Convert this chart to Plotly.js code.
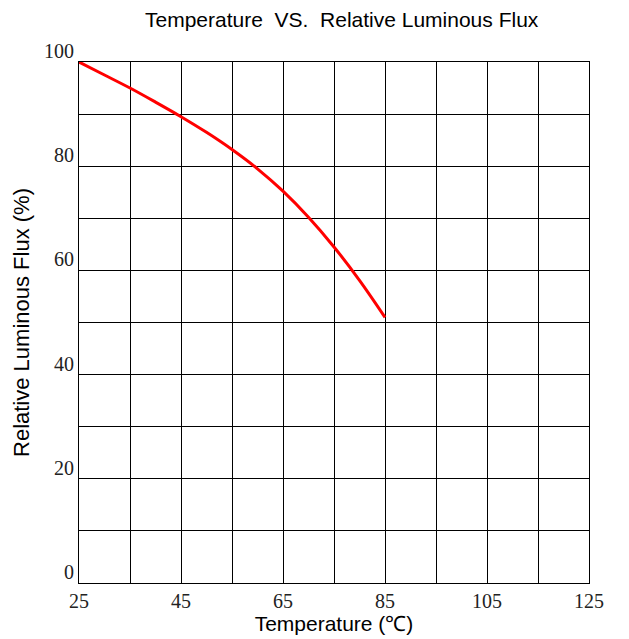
<!DOCTYPE html>
<html>
<head>
<meta charset="utf-8">
<script src="https://cdn.plot.ly/plotly-3.0.1.min.js"></script>
<style>html,body{margin:0;padding:0;background:#fff;}#chart{width:629px;height:639px;}</style>
</head>
<body>
<div id="chart"></div>
<script>
const temperature = [25, 30, 35, 40, 45, 50, 55, 60, 65, 70, 75, 80, 85];
const relativeFlux = [100, 97.5, 95.0, 92.3, 89.5, 86.5, 83.2, 79.5, 75.2, 70.2, 64.5, 58.1, 51.0];
const xTickVals = [25, 45, 65, 85, 105, 125];
const yTickVals = [0, 20, 40, 60, 80, 100];

const trace = {
  x: temperature,
  y: relativeFlux,
  mode: 'lines',
  type: 'scatter',
  line: {color: '#ff0000', width: 3, shape: 'spline', smoothing: 1},
  hoverinfo: 'skip'
};

const serif = {family: 'Liberation Serif, Times New Roman, serif', size: 20, color: '#222'};

const layout = {
  width: 629,
  height: 639,
  margin: {l: 79, r: 40, t: 62, b: 56},
  paper_bgcolor: '#fff',
  plot_bgcolor: '#fff',
  showlegend: false,
  title: {
    text: 'Temperature&nbsp; VS.&nbsp; Relative Luminous Flux',
    font: {family: 'Liberation Sans, Arial, sans-serif', size: 21, color: '#000'},
    x: 0.515, xanchor: 'center', xref: 'paper',
    y: 0.969, yanchor: 'middle', yref: 'container'
  },
  xaxis: {
    range: [25, 125],
    tickvals: xTickVals,
    ticktext: xTickVals.map(String),
    showgrid: true,
    gridcolor: '#000',
    gridwidth: 1,
    minor: {dtick: 10, showgrid: true, gridcolor: '#000', gridwidth: 1, tick0: 25},
    zeroline: false,
    showline: true,
    linecolor: '#000',
    linewidth: 1,
    mirror: true,
    ticks: '',
    tickfont: serif,
    fixedrange: true,
    title: {text: 'Temperature (℃)', font: {family: 'Liberation Sans, Arial, sans-serif', size: 21, color: '#000'}, standoff: 0}
  },
  yaxis: {
    range: [0, 100],
    tickvals: yTickVals,
    ticktext: yTickVals.map(String),
    showgrid: true,
    gridcolor: '#000',
    gridwidth: 1,
    minor: {dtick: 10, showgrid: true, gridcolor: '#000', gridwidth: 1, tick0: 0},
    zeroline: false,
    showline: true,
    linecolor: '#000',
    linewidth: 1,
    mirror: true,
    ticks: '',
    tickfont: serif,
    ticklabelshift: -11,
    fixedrange: true,
    title: {text: 'Relative Luminous Flux (%)', font: {family: 'Liberation Sans, Arial, sans-serif', size: 22, color: '#000'}, standoff: 8}
  }
};

Plotly.newPlot('chart', [trace], layout, {displayModeBar: false, staticPlot: true});
</script>
</body>
</html>
